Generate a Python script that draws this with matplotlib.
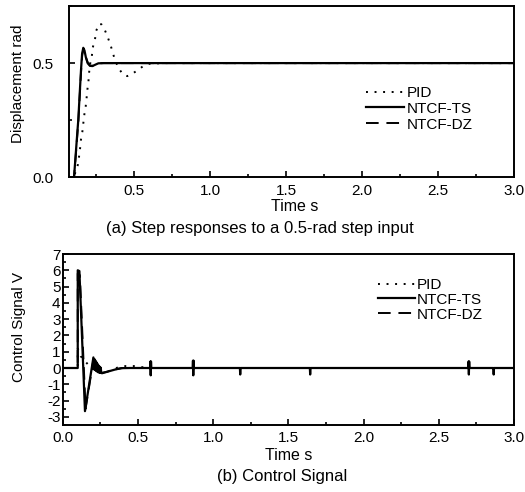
import numpy as np
import matplotlib
matplotlib.use("Agg")
import matplotlib.pyplot as plt
from matplotlib.ticker import MultipleLocator, FormatStrFormatter

plt.rcParams['font.family'] = ['Liberation Sans', 'DejaVu Sans']

# ---------------- data: (a) step responses ----------------
t_pid_a = [0.07, 0.105, 0.118, 0.13, 0.138, 0.145, 0.151, 0.16, 0.166, 0.173, 0.182,
           0.188, 0.193, 0.2, 0.204, 0.211, 0.222, 0.228, 0.243, 0.25, 0.27, 0.285,
           0.304, 0.327, 0.346, 0.36, 0.377, 0.401, 0.43, 0.455, 0.484, 0.51, 0.535,
           0.56, 0.6, 0.7, 3.0]
y_pid_a = [0, 0, 0.032, 0.054, 0.09, 0.127, 0.166, 0.2, 0.236, 0.275, 0.311,
           0.349, 0.384, 0.42, 0.457, 0.497, 0.529, 0.567, 0.604, 0.64, 0.672, 0.67,
           0.651, 0.613, 0.578, 0.545, 0.509, 0.475, 0.448, 0.443, 0.451, 0.463, 0.474,
           0.487, 0.497, 0.5, 0.5]

t_ts_a = [0.07, 0.105, 0.115, 0.125, 0.133, 0.142, 0.151, 0.158, 0.166, 0.174, 0.183,
          0.195, 0.21, 0.226, 0.245, 0.265, 0.3, 3.0]
y_ts_a = [0, 0, 0.09, 0.18, 0.25, 0.36, 0.47, 0.54, 0.567, 0.555, 0.525,
          0.5, 0.488, 0.487, 0.493, 0.499, 0.5, 0.5]

t_dz_a = [0.07, 0.105, 0.116, 0.126, 0.134, 0.143, 0.152, 0.159, 0.167, 0.175, 0.184,
          0.196, 0.211, 0.227, 0.246, 0.266, 0.3, 3.0]
y_dz_a = [0, 0, 0.09, 0.18, 0.25, 0.36, 0.47, 0.535, 0.562, 0.552, 0.524,
          0.5, 0.489, 0.488, 0.494, 0.499, 0.5, 0.5]

# ---------------- data: (b) control signals ----------------
t_pid_b = [0.0, 0.1, 0.1, 0.12, 0.16, 0.19, 0.22, 0.27, 0.32, 0.37, 0.42, 0.47, 0.52, 0.58, 3.0]
u_pid_b = [0.0, 0.0, 1.2, 0.72, 0.3, 0.0, -0.2, -0.3, -0.15, 0.05, 0.12, 0.12, 0.06, 0.0, 0.0]

t_ts_b = [0.0, 0.1, 0.1, 0.111, 0.148, 0.204, 0.2075, 0.211, 0.2145, 0.218, 0.2215, 0.225,
          0.2285, 0.232, 0.2355, 0.239, 0.2425, 0.246, 0.2495, 0.253, 0.2565, 0.262,
          0.30, 0.35, 0.39, 0.45]
u_ts_b = [0.0, 0.0, 6.0, 5.95, -2.65, 0.65, -0.05, 0.55, -0.12, 0.45, -0.18, 0.35,
          -0.22, 0.25, -0.26, 0.15, -0.28, 0.08, -0.30, 0.02, -0.31, -0.32,
          -0.22, -0.09, -0.01, 0.0]

# short chattering bursts of NTCF-TS later on
spike_t = [0.585, 0.868, 1.18, 1.645, 2.70, 2.865]
spike_hi = [0.4, 0.45, 0.0, 0.0, 0.4, 0.0]
spike_lo = [-0.45, -0.45, -0.4, -0.4, -0.4, -0.4]

t_dz_b = [0.0, 0.1, 0.1, 0.114, 0.152, 0.205, 0.23, 0.26, 0.30, 0.35, 0.40, 3.0]
u_dz_b = [0.0, 0.0, 5.8, 5.7, -2.5, 0.55, 0.05, -0.3, -0.22, -0.08, 0.0, 0.0]

labels = ['PID', 'NTCF-TS', 'NTCF-DZ']

# build full TS series with spikes
tt = list(t_ts_b)
uu = list(u_ts_b)
for ts, hi, lo in zip(spike_t, spike_hi, spike_lo):
    tt += [ts - 0.004, ts - 0.002, ts, ts + 0.002, ts + 0.004]
    uu += [0.0, hi, lo, hi, 0.0]
tt += [3.0]
uu += [0.0]

W, H = 525, 492
fig = plt.figure(figsize=(W / 100, H / 100), dpi=100)

def box(l, t, r, b):
    return [l / W, 1 - b / H, (r - l) / W, (b - t) / H]

ax1 = fig.add_axes(box(69, 6, 514, 177.3))
ax2 = fig.add_axes(box(62.7, 254, 514, 425))

pid_style = dict(color='black', lw=1.4, linestyle=(0, (1, 3.4)))
ts_style = dict(color='black', lw=1.6, linestyle='-')
dz_style = dict(color='black', lw=1.4, linestyle=(0, (6.5, 4)))

ax1.plot(t_pid_a, y_pid_a, label=labels[0], **pid_style)
ax1.plot(t_ts_a, y_ts_a, label=labels[1], **ts_style)
ax1.plot(t_dz_a, y_dz_a, label=labels[2], **dz_style)

ax2.plot(t_pid_b, u_pid_b, label=labels[0], **pid_style)
ax2.plot(tt, uu, label=labels[1], **ts_style)
ax2.plot(t_dz_b, u_dz_b, label=labels[2], **dz_style)

ax1.set_xlim(0.072, 3.0)
ax1.set_ylim(0.0, 0.75)
ax1.xaxis.set_major_locator(MultipleLocator(0.5))
ax1.xaxis.set_minor_locator(MultipleLocator(0.25))
ax1.yaxis.set_major_locator(MultipleLocator(0.5))
ax1.yaxis.set_minor_locator(MultipleLocator(0.25))
ax1.xaxis.set_major_formatter(FormatStrFormatter('%.1f'))
ax1.yaxis.set_major_formatter(FormatStrFormatter('%.1f'))

ax2.set_xlim(0.0, 3.0)
ax2.set_ylim(-3.5, 7.0)
ax2.xaxis.set_major_locator(MultipleLocator(0.5))
ax2.xaxis.set_minor_locator(MultipleLocator(0.25))
ax2.yaxis.set_major_locator(MultipleLocator(1))
ax2.yaxis.set_minor_locator(MultipleLocator(0.5))
ax2.xaxis.set_major_formatter(FormatStrFormatter('%.1f'))
ax2.yaxis.set_major_formatter(FormatStrFormatter('%d'))

FS = 11
for ax in (ax1, ax2):
    for s in ax.spines.values():
        s.set_linewidth(1.4)
    ax.tick_params(which='both', direction='in', top=False, right=False,
                   labelsize=FS, width=1.2)
    ax.tick_params(which='major', length=4.5)
    ax.tick_params(which='minor', length=2.5)
    ax.tick_params(axis='x', pad=4.5)

ax1.tick_params(axis='y', pad=11)
ax2.tick_params(axis='y', pad=1.5)

ax1.legend(loc='upper left', bbox_to_anchor=((366 - 69) / 445, (177.3 - 86) / 171.3),
           frameon=False, fontsize=FS, handlelength=2.5, handletextpad=0.15,
           labelspacing=0.12, borderpad=0, borderaxespad=0)
ax2.legend(loc='upper left', bbox_to_anchor=((378 - 62.7) / 451.3, (425 - 278) / 171),
           frameon=False, fontsize=FS, handlelength=2.4, handletextpad=0.15,
           labelspacing=0.05, borderpad=0, borderaxespad=0)

def ftext(x, y, s, size=FS, **kw):
    fig.text(x / W, 1 - y / H, s, ha='center', va='center', fontsize=size, **kw)

ftext(18, 84, 'Displacement rad', rotation=90)
ftext(19, 327, 'Control Signal V', rotation=90)
ftext(295, 207, 'Time s', size=11.5)
ftext(289, 455, 'Time s', size=11.5)
ftext(260, 228, '(a) Step responses to a 0.5-rad step input', size=12)
ftext(282, 477, '(b) Control Signal', size=12)

fig.savefig('out.png', dpi=100)
